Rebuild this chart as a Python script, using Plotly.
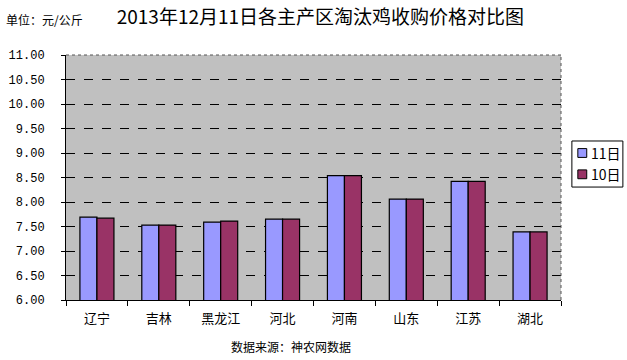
import plotly.graph_objects as go

categories = ["辽宁", "吉林", "黑龙江", "河北", "河南", "山东", "江苏", "湖北"]
series_11 = [7.69, 7.53, 7.59, 7.65, 8.54, 8.06, 8.42, 7.39]
series_10 = [7.67, 7.53, 7.61, 7.65, 8.54, 8.06, 8.42, 7.39]
series_names = ["11日", "10日"]
series_colors = ["#9999FF", "#993366"]
tick_vals = [6.0, 6.5, 7.0, 7.5, 8.0, 8.5, 9.0, 9.5, 10.0, 10.5, 11.0]
tick_text = ["%.2f" % v for v in tick_vals]

CJK = "Noto Sans CJK SC"

fig = go.Figure()
for name, vals, col in zip(series_names, [series_11, series_10], series_colors):
    fig.add_trace(go.Bar(name=name, x=categories, y=vals, showlegend=False,
                         marker=dict(color=col, line=dict(color="#000000", width=1.2))))

fig.update_layout(
    width=627, height=360,
    margin=dict(l=66, r=66, t=55, b=60, autoexpand=False),
    paper_bgcolor="white",
    plot_bgcolor="#C0C0C0",
    barmode="group",
    bargap=0.45,
    bargroupgap=0,
    title=dict(text="2013年12月11日各主产区淘汰鸡收购价格对比图",
               x=0.511, xanchor="center", y=0.953, yanchor="middle",
               font=dict(family=CJK, size=19, color="#000")),
)

fig.update_xaxes(
    showline=True, linecolor="#000", linewidth=1,
    ticks="outside", ticklen=5, tickcolor="#000",
    tickson="boundaries", ticklabelstandoff=6,
    tickfont=dict(family=CJK, size=13, color="#000"),
    showgrid=False,
)
fig.update_yaxes(
    range=[6, 11], tickvals=tick_vals, ticktext=tick_text,
    showline=True, linecolor="#000", linewidth=1,
    ticks="outside", ticklen=4, tickcolor="#000", ticklabelstandoff=14,
    tickfont=dict(family="Liberation Mono", size=12, color="#000"),
    showgrid=True, gridcolor="#000000", griddash="dash", gridwidth=1,
    zeroline=False,
)

# dotted border on top and right of plot area
fig.add_shape(type="line", xref="paper", yref="paper", x0=0, x1=1, y0=1, y1=1,
              line=dict(color="#555", width=1, dash="dot"))
fig.add_shape(type="line", xref="paper", yref="paper", x0=1, x1=1, y0=0, y1=1,
              line=dict(color="#555", width=1, dash="dot"))

# custom legend
fig.add_shape(type="rect", xref="paper", yref="paper", x0=1.022, x1=1.125, y0=0.461, y1=0.649,
              line=dict(color="#000", width=1), fillcolor="white")
leg_y = [0.6, 0.513]
for name, col, yy in zip(series_names, series_colors, leg_y):
    fig.add_shape(type="rect", xref="paper", yref="paper",
                  x0=1.034, x1=1.052, y0=yy - 0.018, y1=yy + 0.018,
                  line=dict(color="#000", width=1), fillcolor=col)
    fig.add_annotation(text=name, xref="paper", yref="paper", x=1.056, y=yy,
                       xanchor="left", yanchor="middle", showarrow=False,
                       font=dict(family=CJK, size=14, color="#000"))

fig.add_annotation(text="单位：元/公斤", xref="paper", yref="paper",
                   x=-0.125, y=1.145, xanchor="left", yanchor="middle",
                   showarrow=False, font=dict(family=CJK, size=12, color="#000"))
fig.add_annotation(text="数据来源：神农网数据", xref="paper", yref="paper",
                   x=0.455, y=-0.19, xanchor="center", yanchor="middle",
                   showarrow=False, font=dict(family=CJK, size=12, color="#000"))

fig.write_html("out.html", config={"displayModeBar": False},
               post_script="document.body.style.margin='0';")
